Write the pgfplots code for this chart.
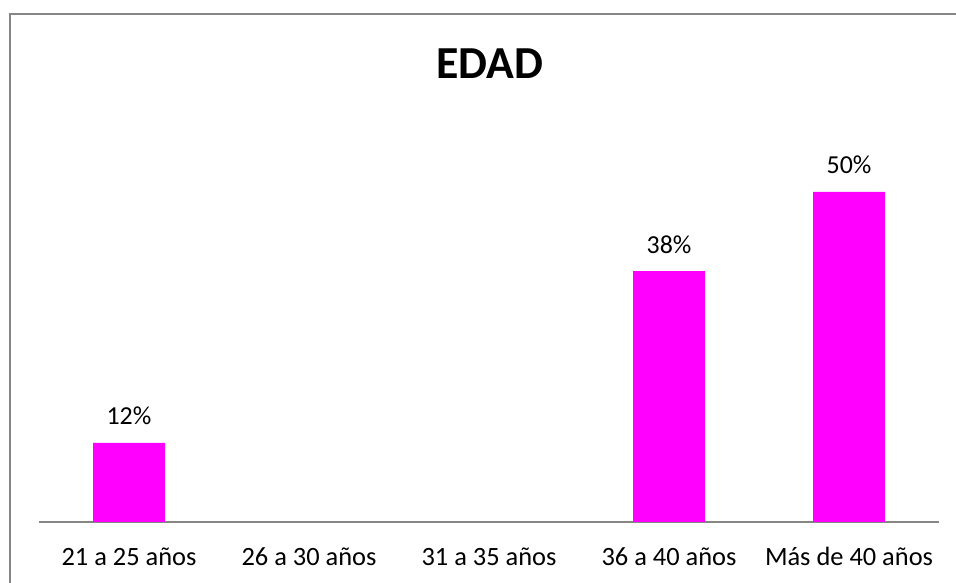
\documentclass[border=0pt]{standalone}
\usepackage{pgfplots}
\pgfplotsset{compat=1.18}
\usepackage{fontspec}
\setmainfont{Carlito}
\definecolor{axgray}{RGB}{134,134,134}
\definecolor{magbar}{RGB}{255,0,255}
\begin{document}
\begin{tikzpicture}[x=1bp,y=1bp]
\useasboundingbox (0,0) rectangle (956,583);
\draw[axgray,line width=2bp] (10,0) -- (10,569) -- (956,569);
\node[anchor=base,font=\fontsize{46}{52}\selectfont\bfseries] at (490,504) {EDAD};
\begin{axis}[
  at={(39bp,61bp)}, anchor=south west,
  scale only axis, width=900bp, height=396bp,
  xmin=-0.5, xmax=4.5, ymin=0, ymax=60,
  ybar, bar width=72bp,
  axis y line=none,
  axis x line*=bottom,
  axis line style={axgray,line width=1.3bp,-},
  xtick={0,1,2,3,4},
  xticklabels={21 a 25 años,26 a 30 años,31 a 35 años,36 a 40 años,Más de 40 años},
  major tick length=0pt,
  /pgf/number format/assume math mode=true,
  xticklabel style={anchor=base,yshift=-44bp,font=\fontsize{26.5}{30}\selectfont},
  nodes near coords={\pgfmathprintnumber{\pgfplotspointmeta}\%},
  nodes near coords style={anchor=base,yshift=18bp,font=\fontsize{26}{30}\selectfont,black},
  clip=false,
]
\addplot[fill=magbar,draw=none] coordinates {(0,12) (3,38) (4,50)};
\end{axis}
\end{tikzpicture}
\end{document}
